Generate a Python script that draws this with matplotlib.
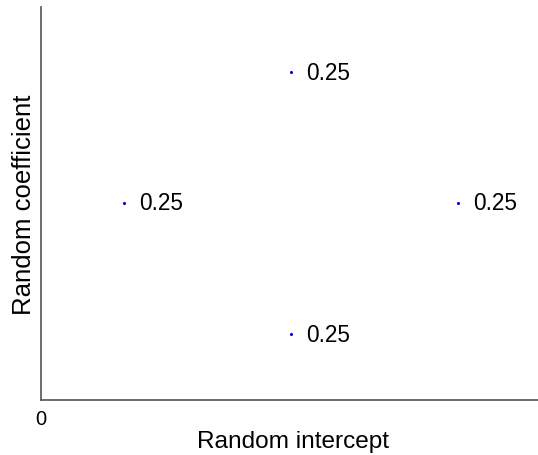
import matplotlib
matplotlib.use("Agg")
import matplotlib.pyplot as plt

# point positions and their labels
intercept = [0.5, 1.5, 1.5, 2.5]
coefficient = [1.5, 2.5, 0.5, 1.5]
prob_labels = ["0.25", "0.25", "0.25", "0.25"]

plt.rcParams['font.family'] = ['Liberation Sans', 'DejaVu Sans']

W, H = 538, 456
fig = plt.figure(figsize=(W/100, H/100), dpi=100)
ax = fig.add_axes([41/W, (H-400.5)/H, 500/W, 393/H])

ax.scatter(intercept, coefficient, s=5, color='#0000ff', linewidths=0)
for x, y, lab in zip(intercept, coefficient, prob_labels):
    ax.annotate(lab, (x, y), xytext=(11, 0), textcoords='offset points',
                va='center', ha='left', fontsize=16.3, color='black')

ax.set_xlim(0, 3)
ax.set_ylim(0, 3)
ax.set_xticks([0])
ax.set_xticklabels(["0"])
ax.set_yticks([])
ax.tick_params(axis='x', length=0, labelsize=14.5, pad=7)
for s in ['top', 'right']:
    ax.spines[s].set_visible(False)
for s in ['left', 'bottom']:
    ax.spines[s].set_color('#555555')
    ax.spines[s].set_linewidth(1.2)

ax.set_xlabel("Random intercept", fontsize=17.6, va='baseline')
ax.xaxis.set_label_coords(293/W, 1-448/H, transform=fig.transFigure)
ax.set_ylabel("Random coefficient", fontsize=18.5, va='center')
ax.yaxis.set_label_coords(24/W, 1-205/H, transform=fig.transFigure)

fig.savefig("out.png", dpi=100)
